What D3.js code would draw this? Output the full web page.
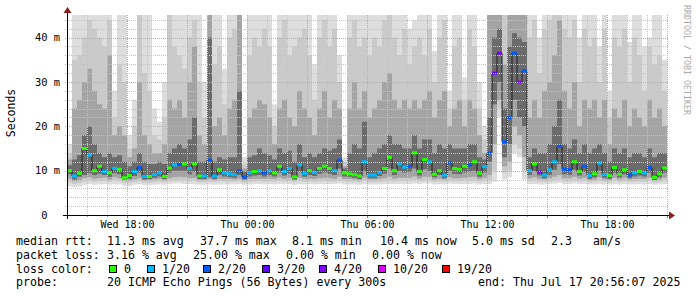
<!DOCTYPE html>
<meta charset="utf-8">
<style>
body { margin:0; background:#ffffff; }
svg text { font-family: "DejaVu Sans Mono", monospace; fill:#000; }
</style>
<body>
<div id="mygraph"></div>
<script src="https://d3js.org/d3.v7.min.js"></script>
<script>
// 15 minute columns, Wed 15:00 .. Thu 21:00 (UTC used only for labelling)
var startTime = Date.UTC(2025, 6, 16, 15, 0);
var stepMs = 15 * 60 * 1000;

// median rtt (ms) per column
var median = [
10.0,8.8,9.4,15.0,13.5,10.0,11.0,9.8,9.5,10.5,
10.3,8.4,8.9,9.8,10.7,8.7,8.7,9.1,9.5,8.7,
10.6,11.3,11.4,11.5,10.5,11.5,8.8,8.8,12.4,8.8,
10.2,9.5,9.3,9.1,10.0,8.6,9.5,9.8,10.0,9.5,
10.0,9.5,11.0,9.8,10.5,8.6,11.3,9.4,10.0,9.6,
10.5,11.0,10.5,10.0,12.4,9.5,9.3,9.1,8.8,12.0,
9.0,9.0,9.6,10.5,13.0,10.0,11.5,10.8,11.0,14.0,
9.8,12.5,12.0,9.2,10.0,9.0,11.8,10.5,10.3,11.0,
11.3,12.0,9.4,10.9,14.0,32.0,36.5,16.5,22.0,36.5,
30.0,32.5,10.0,11.5,9.7,9.0,10.2,12.0,15.5,10.3,
10.2,12.0,9.8,11.0,8.9,9.3,11.7,9.1,8.9,10.7,
9.2,10.2,9.0,9.5,9.8,9.5,10.7,8.5,9.3,10.6];

// lost pings out of 20 per column
var loss = [
0,1,0,0,1,0,0,1,0,1,
0,0,0,1,2,1,0,1,1,0,
0,1,2,0,1,0,0,1,2,1,
0,1,1,1,2,2,1,0,1,2,
1,0,0,1,1,0,1,1,0,1,
0,0,0,1,2,0,0,0,0,1,
1,1,1,0,0,0,1,1,2,0,
0,0,1,0,0,1,2,0,0,0,
2,0,0,1,2,3,5,2,2,2,
4,2,1,0,4,1,1,1,2,2,
2,0,0,2,1,0,1,1,0,0,
0,0,2,1,0,1,2,0,0,0];

// smoke: upper edges of the 4 grey bands (outer -> inner), ms
var smokeTop1 = [
16,46,46,46,46,46,46,46,46,28,
46,46,18,26,46,46,46,24,21,30,
46,46,46,46,46,46,46,30,46,46,
46,33,46,46,46,13,46,46,46,46,
46,25,46,46,46,46,46,46,46,34,
46,46,46,46,36,13,46,46,46,46,
46,46,46,46,46,46,46,46,42,44,
46,46,46,37,46,46,28,46,46,31,
46,46,30,20,46,46,46,46,46,46,
46,46,46,46,40,46,46,46,46,46,
46,46,40,46,46,46,38,46,28,46,
46,46,39,46,46,38,40,46,46,35];
var smokeTop2 = [
14,35,36,40,44,42,40,38,44,22,
34,30,15,20,46,32,28,18,17,22,
46,38,36,33,40,44,30,22,46,34,
38,25,40,42,46,11.5,36,40,38,42,
38,20,40,44,36,38,40,42,36,26,
40,44,38,42,30,12,40,44,38,40,
36,40,38,44,46,40,36,42,34,38,
40,36,42,30,40,44,24,38,40,26,
42,38,24,17,46,46,46,46,46,46,
46,46,40,44,32,42,44,46,46,42,
40,44,30,42,38,40,30,42,22,40,
38,42,30,40,36,28,38,34,36,28];
var smokeTop3 = [
12.5,24,26,30,33,28,25,24,36,18,
20,18,13,15,30,18,16,14,14,16,
26,24,26,22,30,38,18,16,46,20,
22,18,24,26,46,10.5,22,24,26,25,
22,16,24,26,22,20,28,24,22,18,
24,28,22,26,24,11,24,30,24,28,
22,24,26,30,32,26,24,26,24,26,
24,26,28,22,26,28,20,24,26,20,
26,24,18,14,46,46,46,34,46,46,
46,46,22,26,22,28,30,36,44,28,
24,30,20,26,24,26,22,26,16,24,
22,26,20,24,22,20,26,22,24,20];
var smokeTop4 = [
11.2,12.5,13.5,18,20,16,14,13,14,13,
13.5,12,11,12,14,12,11.5,11.5,12,11.5,
14,15,16,15,17,22,12,12,40,12,
13,12.5,13,13,28,9.8,13,13.5,15,14,
13.5,12.5,15,14,14.5,12,16,13,14,13,
14,15,14.5,15,17,10.5,14,16,15,21,
13,14,15,16,18,16,16,15,15,18,
15,17,17,14,16,15,16,15,15,15,
16,16,13,12.5,22,40,42,24,38,41,
40,39,13,15,14,14,16,20,26,16,
15,17,14,16,14,15,16,14,12,15,
14,15,13,14,14,13,15,13,14,14];

// smoke: lower edges of the same bands
var smokeBot1 = [
6.5,6.3,6.4,6.8,7.0,6.8,6.9,7.0,6.8,7.0,
6.9,6.6,6.5,6.8,7.0,6.7,6.7,6.8,6.9,6.8,
7.0,7.1,7.1,7.0,7.0,7.0,6.8,6.8,6.9,6.8,
6.9,6.9,6.9,6.9,7.0,6.8,6.9,7.0,7.0,6.9,
7.0,6.9,7.0,7.0,7.0,6.8,7.0,6.9,7.0,6.9,
7.0,7.0,7.0,7.0,7.1,6.9,6.9,6.9,6.8,7.0,
6.9,6.9,6.9,7.0,7.0,7.0,7.0,7.0,7.0,7.1,
7.0,7.1,7.1,6.9,7.0,6.9,7.1,7.0,7.0,7.0,
7.0,7.1,6.9,7.0,7.0,7.5,22,8.0,8.5,14,
13,8,7.0,7.0,6.9,6.9,7.0,7.1,7.2,7.0,
7.0,7.1,7.0,7.0,6.9,6.9,7.0,6.9,6.9,7.0,
6.9,7.0,6.9,6.9,7.0,6.9,7.0,6.8,6.9,7.0];
var smokeBot2 = [
7.4,7.0,7.2,7.6,7.8,7.5,7.6,7.7,7.5,7.8,
7.6,7.2,7.2,7.4,7.6,7.3,7.3,7.4,7.5,7.4,
7.6,7.8,7.8,7.7,7.6,7.7,7.4,7.4,7.5,7.4,
7.6,7.5,7.5,7.5,7.6,7.3,7.5,7.6,7.6,7.5,
7.6,7.5,7.7,7.6,7.7,7.4,7.7,7.5,7.6,7.5,
7.6,7.7,7.6,7.6,7.8,7.5,7.5,7.5,7.4,7.7,
7.4,7.4,7.5,7.6,7.8,7.6,7.7,7.7,7.7,7.9,
7.6,7.8,7.8,7.5,7.6,7.5,7.8,7.6,7.6,7.7,
7.7,7.8,7.5,7.7,7.8,10,24,9.5,10,16,
15,10,7.6,7.7,7.5,7.5,7.6,7.8,8.0,7.6,
7.6,7.8,7.6,7.7,7.4,7.5,7.7,7.5,7.4,7.7,
7.5,7.6,7.5,7.5,7.6,7.5,7.7,7.3,7.5,7.7];
var smokeBot3 = [
8.2,7.6,7.8,8.3,8.5,8.2,8.3,8.4,8.0,8.5,
8.3,7.8,7.7,8.0,8.3,7.8,7.9,8.0,8.1,7.9,
8.3,8.5,8.6,8.5,8.3,8.4,7.9,7.9,8.1,7.9,
8.2,8.1,8.1,8.0,8.2,7.8,8.1,8.2,8.2,8.1,
8.2,8.1,8.4,8.2,8.3,7.9,8.4,8.1,8.2,8.1,
8.3,8.4,8.3,8.2,8.6,8.1,8.1,8.0,7.9,8.4,
8.0,8.0,8.1,8.3,8.6,8.2,8.4,8.4,8.4,8.7,
8.2,8.6,8.6,8.0,8.2,8.0,8.5,8.3,8.3,8.4,
8.5,8.6,8.1,8.4,9.0,16,26,11,12,20,
18,13,8.3,8.5,8.1,8.0,8.3,8.6,9.0,8.3,
8.3,8.6,8.2,8.4,7.9,8.0,8.5,8.0,7.9,8.4,
8.0,8.3,8.0,8.1,8.2,8.1,8.4,7.8,8.0,8.4];
var smokeBot4 = [
9.2,8.0,8.6,9.0,9.4,9.0,9.3,9.0,8.6,9.4,
9.2,8.0,8.2,8.8,9.5,8.0,8.1,8.4,8.7,8.1,
9.5,10.0,10.0,10.0,9.2,9.8,8.1,8.1,8.5,8.1,
9.0,8.7,8.5,8.4,9.0,8.0,8.7,8.9,9.0,8.7,
9.0,8.7,9.6,8.9,9.3,8.0,9.8,8.6,9.0,8.8,
9.3,9.6,9.3,9.0,10.5,8.7,8.6,8.4,8.1,10.0,
8.3,8.3,8.8,9.3,10.5,9.0,9.9,9.6,9.7,10.5,
8.9,10.3,10.0,8.5,9.0,8.3,10.0,9.3,9.2,9.6,
9.8,10.0,8.6,9.6,12.0,25,30,13,16,26,
22,20,9.0,9.9,8.9,8.3,9.1,10.2,11.5,9.2,
9.1,10.2,8.9,9.7,8.2,8.5,10.0,8.4,8.2,9.5,
8.5,9.2,8.3,8.7,8.9,8.7,9.5,7.9,8.5,9.5];

// axis ticks
var yTicks = [0, 10, 20, 30, 40];
var lossLevels = [0, 1, 2, 3, 4, 10, 19];
var lossLabels = ["0", "1/20", "2/20", "3/20", "4/20", "10/20", "19/20"];
var lossColors = ["#26ff00", "#00b8ff", "#0059ff", "#5e00ff", "#7e00ff", "#dd00ff", "#ff0000"];

var width = 697, height = 297;
var plotL = 67, plotR = 667, plotT = 15, plotB = 215;

var svg = d3.select("#mygraph").append("svg")
  .attr("width", width).attr("height", height);
svg.append("rect").attr("width", width).attr("height", height).attr("fill", "#ffffff");

var endTime = startTime + median.length * stepMs;
var x = d3.scaleUtc().domain([startTime, endTime]).range([plotL, plotR]);
var y = d3.scaleLinear().domain([0, 45.1]).range([plotB, plotT]);

// rows for the step areas, plus one closing point at the end
var rows = median.map(function(m, i) {
  return { t: startTime + i * stepMs, med: m, loss: loss[i],
    top: [smokeTop1[i], smokeTop2[i], smokeTop3[i], smokeTop4[i]],
    bot: [smokeBot1[i], smokeBot2[i], smokeBot3[i], smokeBot4[i]] };
});
var last = rows[rows.length - 1];
var stepRows = rows.concat([{ t: endTime, med: last.med, loss: last.loss, top: last.top, bot: last.bot }]);

svg.append("clipPath").attr("id", "plotclip").append("rect")
  .attr("x", plotL).attr("y", plotT).attr("width", plotR - plotL).attr("height", plotB - plotT);

var plot = svg.append("g").attr("clip-path", "url(#plotclip)");

// smoke bands, outer first
var bandColors = ["#dddddd", "#cacaca", "#a4a4a4", "#6b6b6b"];
bandColors.forEach(function(c, k) {
  var area = d3.area()
    .x(function(d) { return x(d.t); })
    .y0(function(d) { return y(d.bot[k]); })
    .y1(function(d) { return y(d.top[k]); })
    .curve(d3.curveStepAfter);
  plot.append("path").datum(stepRows).attr("d", area).attr("fill", c);
});

// grid
var hours = d3.utcHour.range(startTime + 3600000, endTime + 1, 1);
svg.append("g").selectAll("line").data(hours).enter().append("line")
  .attr("x1", function(d) { return x(d) + 0.5; })
  .attr("x2", function(d) { return x(d) + 0.5; })
  .attr("y1", plotT).attr("y2", plotB)
  .attr("stroke", function(d) { return d.getUTCHours() % 3 == 0 ? "#e39a9a" : "#c4c4c4"; })
  .attr("stroke-dasharray", "1,1");
var yGrid = d3.range(2, 45, 2);
svg.append("g").selectAll("line").data(yGrid).enter().append("line")
  .attr("x1", plotL - 2).attr("x2", plotR + 2)
  .attr("y1", function(d) { return Math.round(y(d)) + 0.5; })
  .attr("y2", function(d) { return Math.round(y(d)) + 0.5; })
  .attr("stroke", function(d) { return d % 10 == 0 ? "#e39a9a" : "#c4c4c4"; })
  .attr("stroke-dasharray", "1,1");

// median: thin dark step line, then coloured loss marks
var medLine = d3.line()
  .x(function(d) { return x(d.t); })
  .y(function(d) { return y(d.med); })
  .curve(d3.curveStepAfter);
plot.append("path").datum(stepRows).attr("d", medLine)
  .attr("fill", "none").attr("stroke", "#202020").attr("stroke-width", 1);

function lossColor(n) {
  var idx = 0;
  for (var j = 0; j < lossLevels.length; j++) { if (n >= lossLevels[j]) idx = j; }
  return lossColors[idx];
}
plot.append("g").selectAll("rect").data(rows).enter().append("rect")
  .attr("x", function(d) { return x(d.t); })
  .attr("width", function(d) { return x(d.t + stepMs) - x(d.t); })
  .attr("y", function(d) { return y(d.med) - 1.5; })
  .attr("height", 3)
  .attr("fill", function(d) { return lossColor(d.loss); });

// axes lines + arrows
svg.append("line").attr("x1", plotL - 4).attr("x2", plotR + 3)
  .attr("y1", plotB + 0.5).attr("y2", plotB + 0.5).attr("stroke", "#000");
svg.append("line").attr("x1", plotL + 0.5).attr("x2", plotL + 0.5)
  .attr("y1", plotB + 4).attr("y2", 11).attr("stroke", "#000");
svg.append("path").attr("d", "M669,211.5 L675,215.5 L669,219.5 Z").attr("fill", "#8b1c1c");
svg.append("path").attr("d", "M63.5,13 L67.5,7 L71.5,13 Z").attr("fill", "#8b1c1c");

// small ticks below x axis
svg.append("g").selectAll("line").data(hours).enter().append("line")
  .attr("x1", function(d) { return x(d) + 0.5; })
  .attr("x2", function(d) { return x(d) + 0.5; })
  .attr("y1", plotB + 1).attr("y2", function(d) { return plotB + (d.getUTCHours() % 3 == 0 ? 3 : 2); })
  .attr("stroke", function(d) { return d.getUTCHours() % 3 == 0 ? "#d05050" : "#999"; });

// axis labels
var xAxis = d3.axisBottom(x)
  .tickValues(d3.utcHour.range(startTime, endTime, 1).filter(function(d) { return d.getUTCHours() % 6 == 0; }))
  .tickFormat(d3.utcFormat("%a %H:%M"))
  .tickSize(0).tickPadding(6);
var gx = svg.append("g").attr("transform", "translate(0," + plotB + ")").call(xAxis);
gx.select(".domain").remove();
gx.selectAll("text").attr("font-size", "10px").attr("font-family", "DejaVu Sans Mono");

var yAxis = d3.axisLeft(y).tickValues(yTicks)
  .tickFormat(function(d) { return d == 0 ? "0\u00a0\u00a0" : d + " m"; })
  .tickSize(0).tickPadding(7);
var gy = svg.append("g").attr("transform", "translate(" + plotL + ",0)").call(yAxis);
gy.select(".domain").remove();
gy.selectAll("text").attr("font-size", "10.4px").attr("font-family", "DejaVu Sans Mono");

svg.append("text").attr("transform", "translate(15,113) rotate(-90)")
  .attr("text-anchor", "middle").attr("font-size", "11.5px").text("Seconds");

svg.append("text").attr("transform", "translate(684,5) rotate(90)")
  .attr("font-size", "8.3px").style("fill", "#aaaaaa").text("RRDTOOL / TOBI OETIKER");

// legend
var legendFont = "11.6px";
function put(txt, px, py) {
  svg.append("text").attr("x", px).attr("y", py).attr("font-size", legendFont)
    .attr("xml:space", "preserve").text(txt);
}
put("median rtt:", 16, 245);
put("11.3 ms avg", 107, 245);
put("37.7 ms max", 200, 245);
put("8.1 ms min", 292, 245);
put("10.4 ms now", 380, 245);
put("5.0 ms sd", 472, 245);
put("2.3", 551, 245);
put("am/s", 593, 245);

put("packet loss:", 16, 259);
put("3.16 % avg", 107, 259);
put("25.00 % max", 193, 259);
put("0.00 % min", 286, 259);
put("0.00 % now", 372, 259);

put("loss color:", 16, 273);
var boxX = [109, 147, 203, 262, 319, 378, 442];
lossLabels.forEach(function(l, i) {
  svg.append("rect").attr("x", boxX[i] + 0.5).attr("y", 265.5).attr("width", 7).attr("height", 7)
    .attr("fill", lossColors[i]).attr("stroke", "#000");
  put(l, boxX[i] + 15, 273);
});

put("probe:", 16, 286);
put("20 ICMP Echo Pings (56 Bytes) every 300s", 107, 286);
put("end: Thu Jul 17 20:56:07 2025", 478, 286);
</script>
